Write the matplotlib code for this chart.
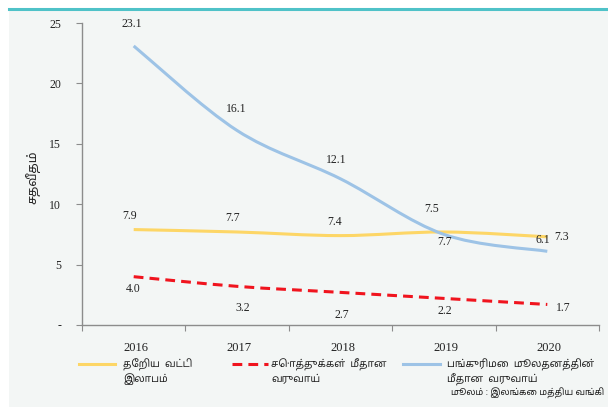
import matplotlib
matplotlib.use("Agg")
import numpy as np
import matplotlib.pyplot as plt
from matplotlib.path import Path
from matplotlib.patches import PathPatch, Rectangle
from matplotlib.lines import Line2D

# datos
years = ["2016", "2017", "2018", "2019", "2020"]
interes_neto = [7.9, 7.7, 7.4, 7.7, 7.3]
rend_activos = [4.0, 3.2, 2.7, 2.2, 1.7]
rend_capital = [23.1, 16.1, 12.1, 7.5, 6.1]
yticks = [0, 5, 10, 15, 20, 25]
ytick_labels = ["-", "5", "10", "15", "20", "25"]
series_names = ["தேறிய  வட்டி\nஇலாபம்", "சொத்துக்கள்  மீதான\nவருவாய்",
                "பங்குரிமை  மூலதனத்தின்\nமீதான  வருவாய்"]
ylabel = "சதவீதம்"
source = "மூலம் : இலங்கை மத்திய வங்கி"

num_font = ["Liberation Serif", "DejaVu Serif"]
tam_font = ["Noto Sans Tamil", "Lohit Tamil", "DejaVu Sans"]

W, H = 608, 407


def px(x, y):
    return x / W, 1 - y / H


def smooth_path(xs, ys):
    # curva suavizada tipo Excel (bezier por los puntos)
    p = np.column_stack([xs, ys]).astype(float)
    n = len(p)
    verts = [p[0]]
    codes = [Path.MOVETO]
    for i in range(n - 1):
        p0 = p[i - 1] if i > 0 else p[i]
        p3 = p[i + 2] if i + 2 < n else p[i + 1]
        c1 = p[i] + (p[i + 1] - p0) / 6
        c2 = p[i + 1] - (p3 - p[i]) / 6
        verts += [c1, c2, p[i + 1]]
        codes += [Path.CURVE4] * 3
    return Path(verts, codes)


fig = plt.figure(figsize=(W / 100, H / 100), dpi=100)
fig.patch.set_facecolor("white")
fig.add_artist(Rectangle(px(9, H), (W - 9) / W, (H - 9) / H, transform=fig.transFigure,
                         facecolor="#f3f6f5", edgecolor="none", zorder=-10))
fig.add_artist(Line2D([9 / W, 1], [1 - 8.5 / H] * 2, transform=fig.transFigure,
                      color="#4fc2c8", lw=2.2))

ax = fig.add_axes([82 / W, 82 / H, 517 / W, 302 / H])
ax.set_facecolor("none")
x = np.arange(len(years))

series = [
    (interes_neto, "#fdd666", "-"),
    (rend_activos, "#f0141e", (0, (3.2, 2.0))),
    (rend_capital, "#9dc3e6", "-"),
]
for vals, col, ls in series:
    ax.add_patch(PathPatch(smooth_path(x, vals), facecolor="none", edgecolor=col,
                           lw=2.2, linestyle=ls, capstyle="butt"))

# etiquetas de datos (desplazamiento en pixeles)
off_int = [(-4, 14), (-5, 14), (-6, 14), (1, -10), (14, 0)]
off_act = [(-1, -12), (6, -22), (1, -23), (1, -13), (16, -4)]
off_cap = [(-2, 22), (-1, 22), (-4, 19), (-12, 25), (-4, 11)]
for vals, offs in [(interes_neto, off_int), (rend_activos, off_act), (rend_capital, off_cap)]:
    for xi, v, o in zip(x, vals, offs):
        ax.annotate(f"{v:.1f}", (xi, v), xytext=o, textcoords="offset pixels",
                    ha="center", va="center", fontsize=8.5, family=num_font, color="#222222")

ax.set_xlim(-0.5, len(years) - 0.5)
ax.set_ylim(0, 25)
ax.set_xticks(np.arange(-0.5, len(years), 1))
ax.set_xticklabels([])
ax.set_xticks(x + 0.02, years, minor=True)
ax.tick_params(axis="x", which="major", length=4, color="#8c8c8c", direction="out")
ax.tick_params(axis="x", which="minor", length=0, pad=12, labelsize=9, labelcolor="#222222")
ax.set_yticks(yticks, ytick_labels)
ax.tick_params(axis="y", length=4, color="#8c8c8c", pad=11, labelsize=8.5, labelcolor="#222222")
for lab in ax.get_xticklabels(minor=True) + ax.get_yticklabels():
    lab.set_family(num_font)
for s in ["top", "right"]:
    ax.spines[s].set_visible(False)
for s in ["left", "bottom"]:
    ax.spines[s].set_color("#8c8c8c")
    ax.spines[s].set_linewidth(1)

fig.text(*px(33, 177), ylabel, rotation=90, ha="center", va="center",
         fontsize=9, fontweight="bold", family=tam_font, color="#222222")

# leyenda manual
leg_x = [(79, 115, 123), (232, 268, 271), (403, 440, 447)]
for (x0, x1, xt), (vals, col, ls), name in zip(leg_x, series, series_names):
    fig.add_artist(Line2D([x0 / W, x1 / W], [1 - 364 / H] * 2, transform=fig.transFigure,
                          color=col, lw=2.2, linestyle=ls))
    fig.text(xt / W, 1 - 372 / H, name, ha="left", va="center", fontsize=7.3,
             family=tam_font, color="#222222", linespacing=1.3)

fig.text(*px(604, 393), source, ha="right", va="center", fontsize=6.5,
         family=tam_font, color="#222222", style="italic")

fig.savefig("out.png", dpi=100, facecolor=fig.get_facecolor())
